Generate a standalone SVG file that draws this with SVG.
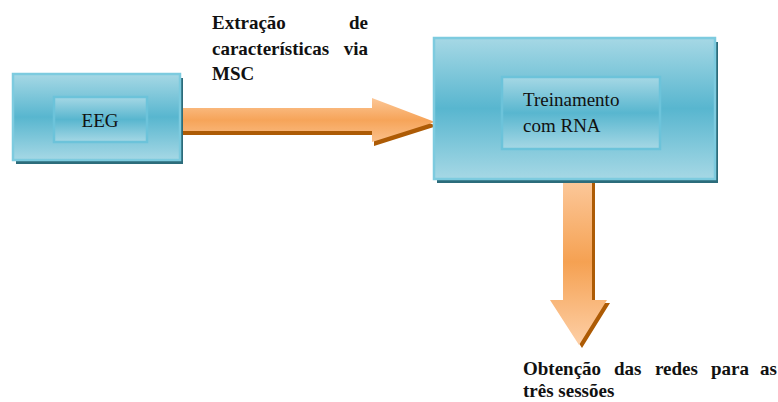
<svg xmlns="http://www.w3.org/2000/svg" width="778" height="402" viewBox="0 0 778 402">
<defs>
<linearGradient id="boxg" x1="0" y1="0" x2="0" y2="1">
<stop offset="0" stop-color="#a6d8e5"/>
<stop offset="0.5" stop-color="#58b6cf"/>
<stop offset="1" stop-color="#a6d8e5"/>
</linearGradient>
<linearGradient id="arrH" x1="0" y1="0" x2="0" y2="1">
<stop offset="0" stop-color="#fcc797"/>
<stop offset="0.5" stop-color="#f6a459"/>
<stop offset="1" stop-color="#fbc08a"/>
</linearGradient>
<linearGradient id="arrV" gradientUnits="userSpaceOnUse" x1="0" y1="179" x2="0" y2="345">
<stop offset="0" stop-color="#fcc99c"/>
<stop offset="0.5" stop-color="#f5a152"/>
<stop offset="1" stop-color="#fdcfa6"/>
</linearGradient>
</defs>
<style>
.shadow{fill:#2c6c7b}
.outer{fill:url(#boxg);stroke:#7dcbdf;stroke-width:2.5}
.inner{fill:url(#boxg);stroke:#6cc3da;stroke-width:2.5}
.ashadow{fill:#ad5b05}
.lbl{font-size:19px;fill:#111}
.bold{font-size:19px;font-weight:bold;fill:#111}
</style>
<g id="connectors">
<polygon class="ashadow" points="180,112 374,112 374,102 437,126 374,146 374,135 180,135"/>
<polygon fill="url(#arrH)" points="178,108 372,108 372,98 435,122 372,142 372,131 178,131"/>
<polygon class="ashadow" points="566,182 595,182 595,303 610,303 582,348 553,303 566,303"/>
<polygon fill="url(#arrV)" points="563,179 592,179 592,300 607,300 579,345 550,300 563,300"/>
</g>
<g id="eeg">
<rect class="shadow" x="16" y="78" width="167" height="86"/>
<rect class="outer" x="13" y="74" width="167" height="86"/>
<rect class="inner" x="54" y="97" width="93" height="45"/>
<text class="lbl" font-family="Liberation Serif, Times New Roman, serif" x="100" y="127" text-anchor="middle">EEG</text>
</g>
<g id="rna">
<rect class="shadow" x="437" y="42" width="281" height="141"/>
<rect class="outer" x="434" y="38" width="281" height="141"/>
<rect class="inner" x="502" y="77" width="158" height="72"/>
<text class="lbl" font-family="Liberation Serif, Times New Roman, serif" x="523" y="106">Treinamento</text>
<text class="lbl" font-family="Liberation Serif, Times New Roman, serif" x="523" y="132">com RNA</text>
</g>
<g id="label-msc" font-family="Liberation Serif, Times New Roman, serif">
<text class="bold" x="212" y="29">Extração</text>
<text class="bold" x="368" y="29" text-anchor="end">de</text>
<text class="bold" x="212" y="55">características</text>
<text class="bold" x="368" y="55" text-anchor="end">via</text>
<text class="bold" x="212" y="80">MSC</text>
</g>
<g id="label-redes" font-family="Liberation Serif, Times New Roman, serif">
<text class="bold" x="523" y="375">Obtenção</text>
<text class="bold" x="614" y="375">das</text>
<text class="bold" x="655" y="375">redes</text>
<text class="bold" x="711" y="375">para</text>
<text class="bold" x="777" y="375" text-anchor="end">as</text>
<text class="bold" x="523" y="397">três sessões</text>
</g>
</svg>
